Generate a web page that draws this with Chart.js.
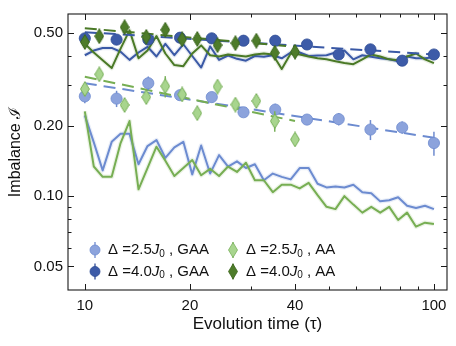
<!DOCTYPE html>
<html>
<head>
<meta charset="utf-8">
<script src="https://cdn.jsdelivr.net/npm/chart.js@4.4.1/dist/chart.umd.min.js"></script>
<style>
    html, body { margin: 0; padding: 0; background: #ffffff; }
    #wrap { width: 456px; height: 346px; }
</style>
</head>
<body>
<div id="wrap"><canvas id="chart" width="456" height="346"></canvas></div>
<script>
// --- data ---
const gaaTimes = [10, 12.33, 15.2, 18.74, 23.1, 28.48, 35.11, 43.29, 53.37, 65.79, 81.11, 100];
const aaTimes = [10, 11, 13, 15, 17, 19, 21, 24, 27, 31, 35, 40];

const gaa25 = [0.268, 0.262, 0.305, 0.271, 0.266, 0.229, 0.235, 0.213, 0.214, 0.193, 0.197, 0.169];
const gaa25Err = [0.018, 0.021, 0.021, 0.013, 0.013, 0.009, 0.014, 0.008, 0.013, 0.019, 0.012, 0.020];
const gaa40 = [0.475, 0.469, 0.469, 0.478, 0.475, 0.464, 0.464, 0.447, 0.405, 0.426, 0.381, 0.405];
const gaa40Err = [0.012, 0.012, 0.012, 0.012, 0.012, 0.012, 0.012, 0.012, 0.012, 0.012, 0.012, 0.012];
const aa25 = [0.288, 0.333, 0.246, 0.266, 0.296, 0.273, 0.227, 0.295, 0.247, 0.256, 0.210, 0.175];
const aa25Err = [0.015, 0.012, 0.012, 0.013, 0.031, 0.012, 0.010, 0.014, 0.011, 0.012, 0.021, 0.008];
const aa40 = [0.458, 0.485, 0.530, 0.482, 0.517, 0.470, 0.472, 0.444, 0.453, 0.464, 0.412, 0.416];
const aa40Err = [0.015, 0.015, 0.015, 0.015, 0.02, 0.015, 0.015, 0.015, 0.015, 0.015, 0.025, 0.015];

// power-law fits (dashed), straight on log-log so end points are enough
const fitGaaTimes = [10, 100];
const fitAaTimes = [10, 40];
const fitGaa25 = [0.305, 0.178];
const fitGaa40 = [0.505, 0.405];
const fitAa25 = [0.325, 0.210];
const fitAa40 = [0.525, 0.437];

// numerics (solid lines)
const simTimes = [10.00, 10.61, 11.25, 11.94, 12.66, 13.43, 14.25, 15.12, 16.04, 17.01,
    18.05, 19.15, 20.31, 21.54, 22.85, 24.24, 25.72, 27.28, 28.94, 30.70,
    32.57, 34.55, 36.65, 38.88, 41.25, 43.76, 46.42, 49.24, 52.23, 55.41,
    58.78, 62.36, 66.15, 70.17, 74.44, 78.96, 83.77, 88.86, 94.27, 100.0];
const simGaa25 = [0.222, 0.170, 0.129, 0.171, 0.185, 0.185, 0.137, 0.164, 0.174, 0.146,
    0.162, 0.171, 0.124, 0.165, 0.125, 0.150, 0.134, 0.141, 0.132, 0.137,
    0.117, 0.125, 0.121, 0.118, 0.132, 0.132, 0.113, 0.109, 0.110, 0.109,
    0.112, 0.104, 0.103, 0.095, 0.096, 0.099, 0.091, 0.089, 0.091, 0.088];
const simAa25 = [0.231, 0.134, 0.121, 0.121, 0.169, 0.210, 0.107, 0.132, 0.163, 0.142,
    0.122, 0.132, 0.143, 0.123, 0.131, 0.122, 0.134, 0.127, 0.139, 0.117,
    0.117, 0.104, 0.112, 0.112, 0.108, 0.114, 0.101, 0.090, 0.088, 0.100,
    0.092, 0.085, 0.090, 0.085, 0.090, 0.079, 0.085, 0.074, 0.077, 0.076];
const simGaa40 = [0.402, 0.421, 0.432, 0.432, 0.416, 0.384, 0.413, 0.437, 0.397, 0.450,
    0.402, 0.448, 0.399, 0.356, 0.439, 0.384, 0.401, 0.388, 0.381, 0.399,
    0.396, 0.402, 0.390, 0.413, 0.413, 0.399, 0.401, 0.402, 0.413, 0.421,
    0.386, 0.402, 0.396, 0.390, 0.386, 0.379, 0.397, 0.390, 0.390, 0.394];
const simAa40 = [0.450, 0.413, 0.383, 0.354, 0.429, 0.514, 0.390, 0.421, 0.486, 0.409,
    0.365, 0.361, 0.409, 0.443, 0.402, 0.397, 0.405, 0.401, 0.397, 0.405,
    0.409, 0.405, 0.351, 0.409, 0.405, 0.397, 0.390, 0.386, 0.379, 0.372,
    0.368, 0.386, 0.405, 0.397, 0.386, 0.383, 0.397, 0.409, 0.386, 0.372];

const xTickLabels = [10, 20, 40, 100];
const xMinorTicks = [30, 50, 60, 70, 80, 90];
const yTickLabels = [0.05, 0.1, 0.2, 0.5];
const yMinorTicks = [0.06, 0.07, 0.08, 0.09, 0.3, 0.4];

const legendLabels = [
    { delta: '2.5', model: 'GAA' },
    { delta: '4.0', model: 'GAA' },
    { delta: '2.5', model: 'AA' },
    { delta: '4.0', model: 'AA' }
];

// --- colours ---
const C = {
    lb: '#8ca3dc', lbEdge: '#6f8bcf', lbLine: '#6c8bd0',
    db: '#3d5ba8', dbEdge: '#2f4c96', dbLine: '#3a59a6',
    lg: '#a8d58e', lgEdge: '#79b05a', lgLine: '#77ae53',
    dg: '#4e7c2a', dgEdge: '#3b661c', dgLine: '#4a7926'
};
const FONT = '"Liberation Sans", Arial, Helvetica, sans-serif';

function pts(xs, ys) {
    return xs.map((x, i) => ({ x: x, y: ys[i] }));
}

function makeDiamond(w, h, fill, stroke) {
    const c = document.createElement('canvas');
    c.width = w;
    c.height = h;
    const g = c.getContext('2d');
    g.beginPath();
    g.moveTo(w / 2, 0.6);
    g.lineTo(w - 0.6, h / 2);
    g.lineTo(w / 2, h - 0.6);
    g.lineTo(0.6, h / 2);
    g.closePath();
    g.fillStyle = fill;
    g.fill();
    g.strokeStyle = stroke;
    g.lineWidth = 1;
    g.stroke();
    return c;
}

const diamondLight = makeDiamond(10, 16, C.lg, C.lgEdge);
const diamondDark = makeDiamond(10, 16, C.dg, C.dgEdge);

function markerSet(data, errors, type, fill, edge, order) {
    const base = {
        data: data,
        errors: errors,
        errorColor: edge,
        showLine: false,
        order: order
    };
    if (type === 'circle') {
        return Object.assign(base, {
            pointStyle: 'circle',
            pointRadius: 5.6,
            pointBackgroundColor: fill,
            pointBorderColor: edge,
            pointBorderWidth: 0.8
        });
    }
    return Object.assign(base, {
        pointStyle: fill === C.lg ? diamondLight : diamondDark,
        pointRadius: 8
    });
}

function lineSet(data, color, width, dash, order) {
    return {
        data: data,
        showLine: true,
        borderColor: color,
        borderWidth: width,
        borderDash: dash,
        borderJoinStyle: 'round',
        pointRadius: 0,
        fill: false,
        tension: 0,
        order: order
    };
}

// error bars drawn right before each marker set
const errorBarPlugin = {
    id: 'errorBars',
    beforeDatasetDraw(chart, args) {
        const ds = chart.data.datasets[args.index];
        if (!ds.errors) return;
        const { ctx, scales: { x, y } } = chart;
        ctx.save();
        ctx.strokeStyle = ds.errorColor;
        ctx.lineWidth = 1.5;
        ds.data.forEach((p, i) => {
            const px = x.getPixelForValue(p.x);
            ctx.beginPath();
            ctx.moveTo(px, y.getPixelForValue(p.y - ds.errors[i]));
            ctx.lineTo(px, y.getPixelForValue(p.y + ds.errors[i]));
            ctx.stroke();
        });
        ctx.restore();
    }
};

// box frame with inward ticks on all four sides
const framePlugin = {
    id: 'frame',
    afterDatasetsDraw(chart) {
        const { ctx, chartArea: { left, right, top, bottom }, scales: { x, y } } = chart;
        ctx.save();
        ctx.strokeStyle = '#1a1a1a';
        ctx.lineWidth = 1.1;
        ctx.strokeRect(left, top, right - left, bottom - top);
        const tick = (v, len, axis) => {
            ctx.beginPath();
            if (axis === 'x') {
                const px = Math.round(x.getPixelForValue(v)) + 0.5;
                ctx.moveTo(px, bottom); ctx.lineTo(px, bottom - len);
                ctx.moveTo(px, top); ctx.lineTo(px, top + len);
            } else {
                const py = Math.round(y.getPixelForValue(v)) + 0.5;
                ctx.moveTo(left, py); ctx.lineTo(left + len, py);
                ctx.moveTo(right, py); ctx.lineTo(right - len, py);
            }
            ctx.stroke();
        };
        ctx.lineWidth = 1;
        xTickLabels.forEach(v => tick(v, 6, 'x'));
        xMinorTicks.forEach(v => tick(v, 3.5, 'x'));
        yTickLabels.forEach(v => tick(v, 6, 'y'));
        yMinorTicks.forEach(v => tick(v, 3.5, 'y'));
        ctx.restore();
    }
};

// two-column legend in the lower left of the plot
const legendPlugin = {
    id: 'innerLegend',
    afterDraw(chart) {
        const ctx = chart.ctx;
        const cols = [95, 233];
        const rows = [250, 271.5];
        const styles = [
            { type: 'circle', fill: C.lb, edge: C.lbEdge },
            { type: 'circle', fill: C.db, edge: C.dbEdge },
            { type: 'diamond', fill: C.lg, edge: C.lgEdge },
            { type: 'diamond', fill: C.dg, edge: C.dgEdge }
        ];
        ctx.save();
        legendLabels.forEach((item, i) => {
            const cx = cols[Math.floor(i / 2)];
            const cy = rows[i % 2];
            const st = styles[i];
            ctx.strokeStyle = st.edge;
            ctx.lineWidth = 1.3;
            ctx.beginPath();
            ctx.moveTo(cx, cy - 8);
            ctx.lineTo(cx, cy + 8);
            ctx.stroke();
            ctx.beginPath();
            if (st.type === 'circle') {
                ctx.arc(cx, cy, 5, 0, Math.PI * 2);
            } else {
                ctx.moveTo(cx, cy - 7.5);
                ctx.lineTo(cx + 4.5, cy);
                ctx.lineTo(cx, cy + 7.5);
                ctx.lineTo(cx - 4.5, cy);
                ctx.closePath();
            }
            ctx.fillStyle = st.fill;
            ctx.fill();
            ctx.lineWidth = 0.8;
            ctx.stroke();

            let tx = cx + 13;
            ctx.fillStyle = '#111';
            ctx.textBaseline = 'middle';
            ctx.textAlign = 'left';
            ctx.font = '15px ' + FONT;
            const a = '\u0394 =' + item.delta;
            ctx.fillText(a, tx, cy);
            tx += ctx.measureText(a).width;
            ctx.font = 'italic 15px ' + FONT;
            ctx.fillText('J', tx, cy);
            tx += ctx.measureText('J').width;
            ctx.font = '10px ' + FONT;
            ctx.fillText('0', tx, cy + 4);
            tx += ctx.measureText('0').width;
            ctx.font = '15px ' + FONT;
            ctx.fillText(' , ' + item.model, tx, cy);
        });
        ctx.restore();
    }
};

const ctx = document.getElementById('chart').getContext('2d');

new Chart(ctx, {
    type: 'scatter',
    data: {
        datasets: [
            markerSet(pts(aaTimes, aa40), aa40Err, 'diamond', C.dg, C.dgEdge, 1),
            markerSet(pts(aaTimes, aa25), aa25Err, 'diamond', C.lg, C.lgEdge, 2),
            markerSet(pts(gaaTimes, gaa40), gaa40Err, 'circle', C.db, C.dbEdge, 3),
            markerSet(pts(gaaTimes, gaa25), gaa25Err, 'circle', C.lb, C.lbEdge, 4),
            lineSet(pts(fitAaTimes, fitAa40), C.dgLine, 2, [12, 7], 5),
            lineSet(pts(fitAaTimes, fitAa25), C.lgLine, 2, [12, 7], 6),
            lineSet(pts(fitGaaTimes, fitGaa40), C.dbLine, 2, [12, 7], 7),
            lineSet(pts(fitGaaTimes, fitGaa25), C.lbLine, 2, [12, 7], 8),
            lineSet(pts(simTimes, simAa40), C.dgLine, 2, [], 9),
            lineSet(pts(simTimes, simGaa40), C.dbLine, 2, [], 10),
            lineSet(pts(simTimes, simAa25), C.lgLine, 2, [], 11),
            lineSet(pts(simTimes, simGaa25), C.lbLine, 2, [], 12),
            // faint uncertainty halo behind the numerics
            lineSet(pts(simTimes, simAa40), 'rgba(74,121,38,0.13)', 4.5, [], 13),
            lineSet(pts(simTimes, simGaa40), 'rgba(58,89,166,0.13)', 4.5, [], 14),
            lineSet(pts(simTimes, simAa25), 'rgba(119,174,83,0.15)', 4.5, [], 15),
            lineSet(pts(simTimes, simGaa25), 'rgba(108,139,208,0.15)', 4.5, [], 16)
        ]
    },
    options: {
        responsive: false,
        animation: false,
        devicePixelRatio: 1,
        layout: { padding: { top: 4, right: 5.5, left: 0, bottom: 0 } },
        plugins: {
            legend: { display: false },
            tooltip: { enabled: false }
        },
        scales: {
            x: {
                type: 'logarithmic',
                min: 8.95,
                max: 109,
                afterFit: (s) => { s.height = 56; },
                afterBuildTicks: (s) => { s.ticks = xTickLabels.map(v => ({ value: v })); },
                grid: { display: false, drawTicks: false },
                border: { display: false },
                ticks: {
                    autoSkip: false,
                    maxRotation: 0,
                    padding: 7,
                    color: '#111',
                    font: { family: FONT, size: 15 },
                    callback: (v) => String(v)
                },
                title: {
                    display: true,
                    text: 'Evolution time (\u03C4)',
                    color: '#111',
                    font: { family: FONT, size: 17 },
                    padding: { top: 0, bottom: 11 }
                }
            },
            y: {
                type: 'logarithmic',
                min: 0.0396,
                max: 0.604,
                afterFit: (s) => { s.width = 68; },
                afterBuildTicks: (s) => { s.ticks = yTickLabels.map(v => ({ value: v })); },
                grid: { display: false, drawTicks: false },
                border: { display: false },
                ticks: {
                    autoSkip: false,
                    padding: 5,
                    color: '#111',
                    font: { family: FONT, size: 15 },
                    callback: (v) => Number(v).toFixed(2)
                },
                title: {
                    display: true,
                    text: 'Imbalance \u2110',
                    color: '#111',
                    font: { family: FONT, size: 16 },
                    padding: { top: 6, bottom: 0 }
                }
            }
        }
    },
    plugins: [errorBarPlugin, framePlugin, legendPlugin]
});
</script>
</body>
</html>
